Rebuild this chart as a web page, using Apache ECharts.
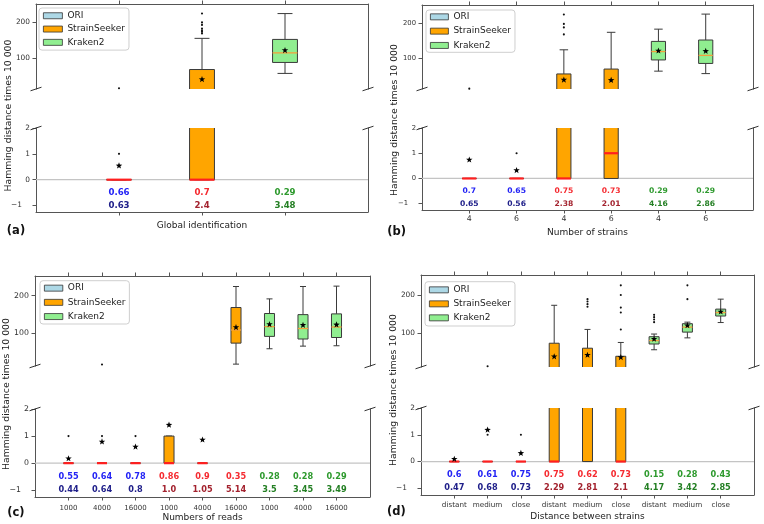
<!DOCTYPE html>
<html><head><meta charset="utf-8">
<script src="https://cdn.jsdelivr.net/npm/echarts@6/dist/echarts.min.js"></script>
<style>html,body{margin:0;padding:0;background:#fff}#c{width:764px;height:524px}</style>
</head><body><div id="c"></div>
<script>
// ================= DATA =================
const groupNames = ['ORI', 'StrainSeeker', 'Kraken2'];

// Panel (a) Global identification
const aTickLabels = ['', '', ''];
const aGroup = [0, 1, 2];
const aQ1 = [0, 0, 87];
const aMedian = [0, 0, 114];
const aQ3 = [0, 67, 152];
const aWhiskLo = [0, 0, 56];
const aWhiskHi = [0, 155, 225];
const aMean = [0.54, 39, 121];
const aFliers = [[1, 14], [169, 174, 178, 183, 193, 200, 225], []];
const aRow1 = ['0.66', '0.7', '0.29'];
const aRow2 = ['0.63', '2.4', '3.48'];

// Panel (b) Number of strains
const bTickLabels = ['4', '6', '4', '6', '4', '6'];
const bGroup = [0, 0, 1, 1, 2, 2];
const bQ1 = [0, 0, 0, 0, 95, 85];
const bMedian = [0, 0, 0, 1, 119, 108];
const bQ3 = [0, 0, 55, 69, 148, 152];
const bWhiskLo = [0, 0, 0, 0, 63, 56];
const bWhiskHi = [0, 0, 124, 174, 183, 226];
const bMean = [0.74, 0.32, 38, 37, 121, 120];
const bFliers = [[13], [1], [168, 188, 198, 225], [], [], []];
const bRow1 = ['0.7', '0.65', '0.75', '0.73', '0.29', '0.29'];
const bRow2 = ['0.65', '0.56', '2.38', '2.01', '4.16', '2.86'];

// Panel (c) Numbers of reads
const cTickLabels = ['1000', '4000', '16000', '1000', '4000', '16000', '1000', '4000', '16000'];
const cGroup = [0, 0, 0, 1, 1, 1, 2, 2, 2];
const cQ1 = [0, 0, 0, 0, 0, 73, 91, 84, 88];
const cMedian = [0, 0, 0, 0, 0, 108, 117, 112, 116];
const cQ3 = [0, 0, 0, 1, 0, 168, 152, 149, 151];
const cWhiskLo = [0, 0, 0, 0, 0, 17, 58, 65, 66];
const cWhiskHi = [0, 0, 0, 1, 0, 224, 191, 224, 225];
const cMean = [0.17, 0.79, 0.6, 1.41, 0.86, 115, 123, 121, 122];
const cFliers = [[1], [1, 16], [1], [], [], [], [], [], []];
const cRow1 = ['0.55', '0.64', '0.78', '0.86', '0.9', '0.35', '0.28', '0.28', '0.29'];
const cRow2 = ['0.44', '0.64', '0.8', '1.0', '1.05', '5.14', '3.5', '3.45', '3.49'];

// Panel (d) Distance between strains
const dTickLabels = ['distant', 'medium', 'close', 'distant', 'medium', 'close', 'distant', 'medium', 'close'];
const dGroup = [0, 0, 0, 1, 1, 1, 2, 2, 2];
const dQ1 = [0, 0, 0, 0, 0, 0, 72, 103, 145];
const dMedian = [0, 0, 0, 0, null, 0, 81, 116, 154];
const dQ3 = [0, 0, 0, 74, 61, 40, 91, 125, 163];
const dWhiskLo = [0, 0, 0, 0, 0, 0, 57, 88, 128];
const dWhiskHi = [0, 0, 0, 173, 110, 76, 98, 129, 189];
const dMean = [0.09, 1.18, 0.31, 39, 43, 37, 85, 120, 156];
const dFliers = [[], [1, 14], [1], [], [169, 176, 183, 189], [110, 154, 167, 200, 225], [129, 136, 142, 148], [189, 225], []];
const dRow1 = ['0.6', '0.61', '0.75', '0.75', '0.62', '0.73', '0.15', '0.28', '0.43'];
const dRow2 = ['0.47', '0.68', '0.73', '2.29', '2.81', '2.1', '4.17', '3.42', '2.85'];

// axis ranges and ticks
const topRange = [12, 252];
const bottomRange = [-1.25, 2];
const topTicks = [100, 200];
const bottomTicks = [-1, 0, 1, 2];
const xTitles = ['Global identification', 'Number of strains', 'Numbers of reads', 'Distance between strains'];
const yTitle = 'Hamming distance times 10 000';
const panelLetters = ['(a)', '(b)', '(c)', '(d)'];

// ================= STYLE / LAYOUT =================
const FONT = 'DejaVu Sans';
const FILL = ['#add8e6', '#ffa500', '#90ee90'];
const ROW1_COLOR = ['#2323f5', '#f52a30', '#2e9a2e'];
const ROW2_COLOR = ['#20208a', '#a3222e', '#237f23'];
const EDGE = '#3a3a3a';
const SPINE = '#555';
const BOX_W = 0.3, CAP_W = 0.18;
const ROW1_Y = -0.5, ROW2_Y = -1.0;

const layout = [
  {left: 36, width: 332, tTop: 4, tH: 85, bTop: 128, bH: 84, yFont: 7.4, xFont: 7.5, xMargin: 5, nameGap: 9.5, annFont: 8.6,
   lg: {left: 39, top: 8, iw: 19, gap: 3.8, pad: 3}, ylab: [8.3, 115.5], letter: [16, 231]},
  {left: 422, width: 331, tTop: 5, tH: 84, bTop: 128, bH: 82, yFont: 6.8, xFont: 7.8, xMargin: 5, nameGap: 18, annFont: 7.6,
   lg: {left: 426, top: 10, iw: 18, gap: 4.8, pad: 2.1}, ylab: [394.5, 120], letter: [396.7, 231.7]},
  {left: 35, width: 335, tTop: 276, tH: 90, bTop: 409, bH: 88, yFont: 7.8, xFont: 7, xMargin: 7.5, nameGap: 16, annFont: 8.2,
   lg: {left: 40, top: 280.7, iw: 18.4, gap: 4.7, pad: 2.7}, ylab: [6.3, 394], letter: [15.8, 513]},
  {left: 421, width: 333, tTop: 275, tH: 92, bTop: 408, bH: 87, yFont: 7.4, xFont: 7.2, xMargin: 6.5, nameGap: 17, annFont: 8.2,
   lg: {left: 425, top: 281.7, iw: 19, gap: 4.5, pad: 3.4}, ylab: [393.3, 390], letter: [396.3, 511.7]}
];

const panels = [
  {ticks: aTickLabels, group: aGroup, q1: aQ1, median: aMedian, q3: aQ3, lo: aWhiskLo, hi: aWhiskHi, mean: aMean, fliers: aFliers, r1: aRow1, r2: aRow2},
  {ticks: bTickLabels, group: bGroup, q1: bQ1, median: bMedian, q3: bQ3, lo: bWhiskLo, hi: bWhiskHi, mean: bMean, fliers: bFliers, r1: bRow1, r2: bRow2},
  {ticks: cTickLabels, group: cGroup, q1: cQ1, median: cMedian, q3: cQ3, lo: cWhiskLo, hi: cWhiskHi, mean: cMean, fliers: cFliers, r1: cRow1, r2: cRow2},
  {ticks: dTickLabels, group: dGroup, q1: dQ1, median: dMedian, q3: dQ3, lo: dWhiskLo, hi: dWhiskHi, mean: dMean, fliers: dFliers, r1: dRow1, r2: dRow2}
];

// ================= RENDER HELPERS =================
function ln(x1, y1, x2, y2, color, w) {
  return {type: 'line', shape: {x1, y1, x2, y2}, style: {stroke: color, lineWidth: w}};
}
function starPts(cx, cy, R, r) {
  const pts = [];
  for (let k = 0; k < 10; k++) {
    const ang = -Math.PI / 2 + k * Math.PI / 5;
    const rad = k % 2 === 0 ? R : r;
    pts.push([cx + rad * Math.cos(ang), cy + rad * Math.sin(ang)]);
  }
  return pts;
}

function boxRender(P, section) {
  return function (params, api) {
    const x = api.value(0), i = api.value(1);
    const cs = params.coordSys;
    const yT = cs.y, yB = cs.y + cs.height;
    const py = v => api.coord([x, v])[1];
    const cx = api.coord([x, 0])[0];
    const hw = api.size([BOX_W, 0])[0] / 2;
    const cw = api.size([CAP_W, 0])[0] / 2;
    const inR = y => y >= yT - 0.5 && y <= yB + 0.5;
    const cl = y => Math.max(yT, Math.min(yB, y));
    const g = P.group[i];
    const ch = [];
    const q1y = py(P.q1[i]), q3y = py(P.q3[i]);
    const hiY = py(P.hi[i]), loY = py(P.lo[i]);
    // whiskers
    if (P.hi[i] > P.q3[i]) {
      const a = cl(q3y), b = cl(hiY);
      if (a - b > 0.1) ch.push(ln(cx, a, cx, b, EDGE, 1));
    }
    if (inR(hiY)) ch.push(ln(cx - cw, hiY, cx + cw, hiY, EDGE, 1));
    if (P.lo[i] < P.q1[i]) {
      const a = cl(q1y), b = cl(loY);
      if (b - a > 0.1) ch.push(ln(cx, a, cx, b, EDGE, 1));
    }
    if (inR(loY)) ch.push(ln(cx - cw, loY, cx + cw, loY, EDGE, 1));
    // box
    if (q3y <= yB + 0.5 && q1y >= yT - 0.5) {
      const ya = cl(q3y), yb = cl(q1y);
      if (yb - ya > 0) {
        ch.push({type: 'rect', shape: {x: cx - hw, y: ya, width: 2 * hw, height: yb - ya}, style: {fill: FILL[g]}});
        ch.push(ln(cx - hw, ya, cx - hw, yb, EDGE, 1));
        ch.push(ln(cx + hw, ya, cx + hw, yb, EDGE, 1));
      }
      if (inR(q3y)) ch.push(ln(cx - hw, q3y, cx + hw, q3y, EDGE, 1));
      if (inR(q1y)) ch.push(ln(cx - hw, q1y, cx + hw, q1y, EDGE, 1));
    }
    // median
    const m = P.median[i];
    if (m !== null) {
      const my = py(m);
      if (inR(my)) {
        const bottom = section === 'bottom';
        ch.push(ln(cx - hw, my, cx + hw, my, bottom ? '#ff1f1f' : '#f5a03c', bottom ? 2.2 : 1.3));
      }
    }
    // fliers
    P.fliers[i].forEach(v => {
      const fy = py(v);
      if (inR(fy)) ch.push({type: 'circle', shape: {cx: cx, cy: fy, r: 1.05}, style: {fill: '#111'}});
    });
    // mean
    const mny = py(P.mean[i]);
    if (inR(mny)) ch.push({type: 'polygon', shape: {points: starPts(cx, mny, 3.4, 1.4)}, style: {fill: '#000'}});
    return {type: 'group', children: ch};
  };
}

function frameRender(section) {
  return function (params, api) {
    const cs = params.coordSys;
    const ch = [];
    if (section === 'bottom') {
      const y0 = api.coord([0, 0])[1];
      ch.push(ln(cs.x, y0, cs.x + cs.width, y0, '#c4c4c4', 1.3));
    }
    const yb = section === 'top' ? cs.y + cs.height : cs.y;
    [cs.x, cs.x + cs.width].forEach(xx => ch.push(ln(xx - 5.5, yb + 1.8, xx + 5.5, yb - 1.8, '#333', 1)));
    return {type: 'group', children: ch};
  };
}

function textRender(P, L) {
  return function (params, api) {
    const x = api.value(0), i = api.value(1);
    const g = P.group[i];
    const p1 = api.coord([x, ROW1_Y]), p2 = api.coord([x, ROW2_Y]);
    const st = (t, c) => ({text: t, fill: c, fontSize: L.annFont, fontWeight: 'bold', fontFamily: FONT, align: 'center', verticalAlign: 'middle'});
    return {type: 'group', children: [
      {type: 'text', x: p1[0], y: p1[1], style: st(P.r1[i], ROW1_COLOR[g])},
      {type: 'text', x: p2[0], y: p2[1], style: st(P.r2[i], ROW2_COLOR[g])}
    ]};
  };
}

// ================= BUILD OPTION =================
const grids = [], xAxes = [], yAxes = [], series = [], legends = [], graphics = [];

panels.forEach((P, pi) => {
  const L = layout[pi];
  const n = P.ticks.length;
  const pos = P.ticks.map((_, k) => k + 1);
  ['top', 'bottom'].forEach(section => {
    const gi = grids.length;
    const isTop = section === 'top';
    grids.push({left: L.left, top: isTop ? L.tTop : L.bTop, width: L.width, height: isTop ? L.tH : L.bH, containLabel: false, outerBoundsMode: 'none'});
    xAxes.push({
      gridIndex: gi, type: 'value', min: 0, max: n + 1, position: isTop ? 'top' : 'bottom',
      axisLine: {show: true, onZero: false, lineStyle: {color: SPINE, width: 1}},
      axisTick: {show: true, customValues: pos, length: 3.5, inside: false, lineStyle: {color: SPINE}},
      axisLabel: {show: !isTop, customValues: pos, formatter: v => P.ticks[Math.round(v) - 1] || '',
        fontSize: L.xFont, color: '#333', fontFamily: FONT, margin: L.xMargin},
      splitLine: {show: false},
      name: isTop ? '' : xTitles[pi], nameLocation: 'middle', nameGap: L.nameGap,
      nameTextStyle: {fontSize: 9, color: '#222', fontFamily: FONT}
    });
    const rng = isTop ? topRange : bottomRange;
    const tks = isTop ? topTicks : bottomTicks;
    yAxes.push({
      gridIndex: gi, type: 'value', min: rng[0], max: rng[1], position: 'left',
      axisLine: {show: true, onZero: false, lineStyle: {color: SPINE, width: 1}},
      axisTick: {show: true, customValues: tks, length: 3.5, inside: false, lineStyle: {color: SPINE}},
      axisLabel: {customValues: tks, fontSize: L.yFont, color: '#333', fontFamily: FONT, margin: 6,
        formatter: v => v < 0 ? '{n|\u2212' + Math.abs(v) + '}' : String(v),
        rich: {n: {fontSize: L.yFont, color: '#333', fontFamily: FONT, padding: [0, 8, 0, 0]}}},
      splitLine: {show: false}
    });
    yAxes.push({
      gridIndex: gi, type: 'value', min: rng[0], max: rng[1], position: 'right',
      axisLine: {show: true, onZero: false, lineStyle: {color: SPINE, width: 1}},
      axisTick: {show: false}, axisLabel: {show: false}, splitLine: {show: false}
    });
    const yi = gi * 2;
    series.push({type: 'custom', name: 'frame' + gi, xAxisIndex: gi, yAxisIndex: yi, z: 1, silent: true,
      renderItem: frameRender(section), data: [[0, 0]]});
    groupNames.forEach((name, g) => {
      const dat = [];
      P.group.forEach((gg, k) => { if (gg === g) dat.push([k + 1, k]); });
      series.push({type: 'custom', name: name, xAxisIndex: gi, yAxisIndex: yi, z: 3, silent: true,
        itemStyle: {color: FILL[g], borderColor: '#333', borderWidth: 0.8},
        renderItem: boxRender(P, section), data: dat});
    });
    if (!isTop) {
      series.push({type: 'custom', name: 'labels' + gi, xAxisIndex: gi, yAxisIndex: yi, z: 4, silent: true,
        renderItem: textRender(P, L), data: pos.map((p, k) => [p, k])});
    }
  });
  legends.push({
    orient: 'vertical', left: L.lg.left, top: L.lg.top, selectedMode: false,
    itemWidth: L.lg.iw, itemHeight: 6, itemGap: L.lg.gap,
    padding: [L.lg.pad, 4, L.lg.pad, 4],
    borderColor: '#cfcfcf', borderWidth: 1, borderRadius: 3, backgroundColor: 'rgba(255,255,255,0.85)',
    textStyle: {fontSize: 9, color: '#222', fontFamily: FONT, lineHeight: 9.5},
    data: groupNames.map((nm, g) => ({name: nm, icon: 'rect', itemStyle: {color: FILL[g], borderColor: '#333', borderWidth: 0.8}})),
    z: 10
  });
  graphics.push({type: 'text', x: L.ylab[0], y: L.ylab[1], rotation: Math.PI / 2,
    style: {text: yTitle, fontSize: 9.3, fontFamily: FONT, fill: '#222', align: 'center', verticalAlign: 'middle'}});
  graphics.push({type: 'text', x: L.letter[0], y: L.letter[1],
    style: {text: panelLetters[pi], fontSize: 11.5, fontWeight: 'bold', fontFamily: FONT, fill: '#111', align: 'center', verticalAlign: 'middle'}});
});

const chart = echarts.init(document.getElementById('c'), null, {renderer: 'canvas'});
chart.setOption({
  animation: false,
  backgroundColor: '#fff',
  textStyle: {fontFamily: FONT},
  grid: grids, xAxis: xAxes, yAxis: yAxes, series: series, legend: legends, graphic: graphics
});
</script></body></html>
